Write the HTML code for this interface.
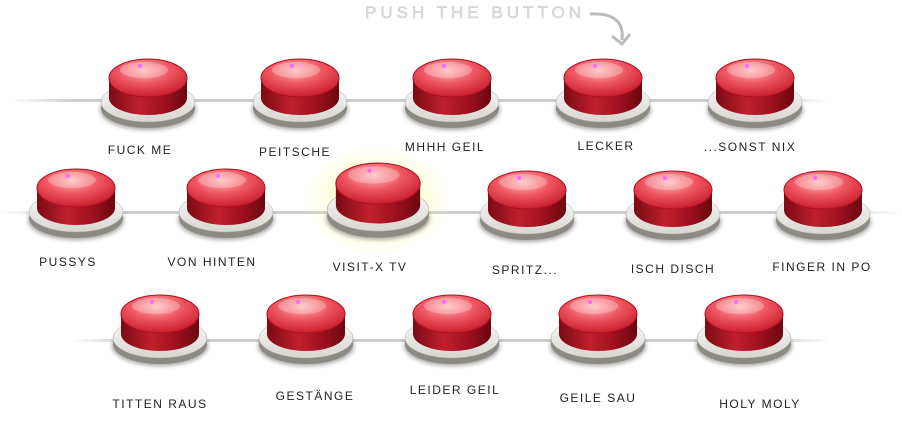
<!DOCTYPE html>
<html><head><meta charset="utf-8"><style>
body{margin:0;width:902px;height:423px;background:#fff;overflow:hidden;position:relative;font-family:"Liberation Sans",sans-serif}
.l{position:absolute;font-size:12px;letter-spacing:1.5px;color:#222;transform:translateX(-50%);white-space:nowrap}
svg{position:absolute;left:0;top:0}
</style></head><body>
<svg width="902" height="423">
<defs>
<linearGradient id="ln" x1="0" x2="1"><stop offset="0" stop-color="#fff"/><stop offset=".08" stop-color="#ccc"/><stop offset=".92" stop-color="#ccc"/><stop offset="1" stop-color="#fff"/></linearGradient>
<radialGradient id="cap" cx=".45" cy=".3" r=".7"><stop offset="0" stop-color="#fbb"/><stop offset=".5" stop-color="#ee5560"/><stop offset="1" stop-color="#c81e2c"/></radialGradient>
<linearGradient id="side" x1="0" x2="1"><stop offset="0" stop-color="#7a0a14"/><stop offset=".4" stop-color="#c0202c"/><stop offset=".7" stop-color="#a01020"/><stop offset="1" stop-color="#6a0810"/></linearGradient>
<linearGradient id="base" x1="0" y1="0" x2="0" y2="1"><stop offset="0" stop-color="#fafafa"/><stop offset="1" stop-color="#d8d6d0"/></linearGradient>
<radialGradient id="glow"><stop offset="0" stop-color="#ffff80" stop-opacity=".8"/><stop offset="1" stop-color="#ffffa0" stop-opacity="0"/></radialGradient>
<filter id="sh"><feGaussianBlur stdDeviation="2"/></filter>
<g id="b">
<ellipse cx="0" cy="52" rx="48" ry="20" fill="#000" opacity=".35" filter="url(#sh)"/>
<ellipse cx="0" cy="50" rx="47" ry="20" fill="#8c8a82"/>
<ellipse cx="0" cy="44" rx="47" ry="20" fill="url(#base)" stroke="#aaa" stroke-width=".5"/>
<path d="M-39 20 V40 A39 17 0 0 0 39 40 V20 Z" fill="url(#side)"/>
<ellipse cx="0" cy="20" rx="39" ry="19" fill="url(#cap)" stroke="#b01020" stroke-width="1"/>
<ellipse cx="-4" cy="12" rx="24" ry="8" fill="#fff" opacity=".25"/>
<circle cx="-8" cy="8" r="2" fill="#f6f"/>
</g>
</defs>
<rect x="10" y="99" width="820" height="3" fill="url(#ln)"/>
<rect x="0" y="211" width="902" height="3" fill="url(#ln)"/>
<rect x="70" y="339" width="760" height="3" fill="url(#ln)"/>
<ellipse cx="378" cy="200" rx="75" ry="55" fill="url(#glow)"/>
<use href="#b" x="148" y="58"/><use href="#b" x="300" y="58"/><use href="#b" x="452" y="58"/><use href="#b" x="603" y="58"/><use href="#b" x="755" y="58"/>
<use href="#b" x="76" y="168"/><use href="#b" x="226" y="168"/>
<use href="#b" transform="translate(378 162) scale(1.08)"/>
<use href="#b" x="527" y="170"/><use href="#b" x="673" y="170"/><use href="#b" x="823" y="170"/>
<use href="#b" x="160" y="294"/><use href="#b" x="306" y="294"/><use href="#b" x="452" y="294"/><use href="#b" x="598" y="294"/><use href="#b" x="744" y="294"/>
<text x="365" y="18" font-family="Liberation Sans" font-size="17" letter-spacing="4" fill="#ddd" stroke="#ccc" stroke-width=".5">PUSH THE BUTTON</text>
<path d="M590 14 Q625 12 622 40" fill="none" stroke="#bbb" stroke-width="3"/><path d="M612 36 L622 44 L630 34" fill="none" stroke="#bbb" stroke-width="3"/>
</svg>
<div class="l" style="left:140px;top:143px">FUCK ME</div>
<div class="l" style="left:295px;top:145px">PEITSCHE</div>
<div class="l" style="left:445px;top:140px">MHHH GEIL</div>
<div class="l" style="left:606px;top:139px">LECKER</div>
<div class="l" style="left:750px;top:140px">...SONST NIX</div>
<div class="l" style="left:68px;top:255px">PUSSYS</div>
<div class="l" style="left:212px;top:255px">VON HINTEN</div>
<div class="l" style="left:370px;top:260px">VISIT-X TV</div>
<div class="l" style="left:525px;top:263px">SPRITZ...</div>
<div class="l" style="left:673px;top:262px">ISCH DISCH</div>
<div class="l" style="left:822px;top:260px">FINGER IN PO</div>
<div class="l" style="left:160px;top:397px">TITTEN RAUS</div>
<div class="l" style="left:315px;top:389px">GESTÄNGE</div>
<div class="l" style="left:455px;top:383px">LEIDER GEIL</div>
<div class="l" style="left:598px;top:391px">GEILE SAU</div>
<div class="l" style="left:760px;top:397px">HOLY MOLY</div>
</body></html>
